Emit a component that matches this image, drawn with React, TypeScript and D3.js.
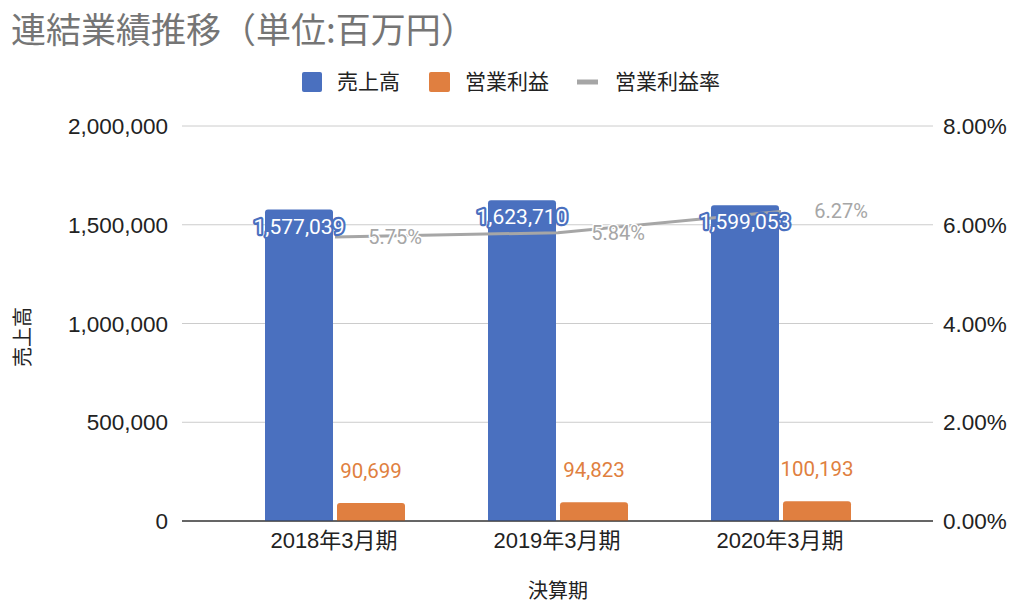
import React from "react";
import * as d3 from "d3";

const categories = ["2018年3月期", "2019年3月期", "2020年3月期"];
const sales = [1577039, 1623710, 1599053];
const operatingProfit = [90699, 94823, 100193];
const profitRate = [5.75, 5.84, 6.27];
const leftTicks = [0, 500000, 1000000, 1500000, 2000000];
const rightTicks = [0, 2, 4, 6, 8];
const title = "連結業績推移（単位:百万円）";
const legendLabels = ["売上高", "営業利益", "営業利益率"];
const xTitle = "決算期";
const yTitle = "売上高";

const W = 1024;
const H = 613;
const AXIS_FONT = "'Liberation Sans', Arial, 'Noto Sans CJK JP', sans-serif";
const LABEL_FONT = "Roboto, 'Noto Sans CJK JP', sans-serif";
const CJK_FONT = "'Noto Sans CJK JP', sans-serif";
const BLUE = "#4a70bf";
const ORANGE = "#e07f40";
const GRAY = "#a6a6a6";

function topRoundedBar(x: number, y: number, w: number, h: number, r: number) {
  const rr = Math.min(r, h / 2, w / 2);
  const p = d3.path();
  p.moveTo(x, y + h);
  p.lineTo(x, y + rr);
  p.quadraticCurveTo(x, y, x + rr, y);
  p.lineTo(x + w - rr, y);
  p.quadraticCurveTo(x + w, y, x + w, y + rr);
  p.lineTo(x + w, y + h);
  p.closePath();
  return p.toString();
}

export default function App() {
  const plotLeft = 182;
  const plotRight = 933;
  const yTop = 126;
  const yBottom = 521;

  const x = d3.scaleBand<string>().domain(categories).range([223.5, 892.5]).paddingInner(0).paddingOuter(0);
  const yL = d3.scaleLinear().domain([0, 2000000]).range([yBottom, yTop]);
  const yR = d3.scaleLinear().domain([0, 8]).range([yBottom, yTop]);
  const barW = 68;
  const gap = 4;
  const fmt = d3.format(",");

  const cx = (c: string) => (x(c) as number) + x.bandwidth() / 2;
  const blueX = (c: string) => cx(c) - gap / 2 - barW;
  const orangeX = (c: string) => cx(c) + gap / 2;

  const line = d3
    .line<number>()
    .x((_, i) => cx(categories[i]))
    .y((d) => yR(d));

  return (
    <svg width={W} height={H} style={{ position: "absolute", left: 0, top: 0, background: "#fff" }}>
      <rect x={0} y={0} width={W} height={H} fill="#fff" />
      <text x={11} y={43} fontSize={35} fill="#757575" fontFamily={CJK_FONT}>{title}</text>

      {/* legend */}
      <g fontSize={21} fill="#222" fontFamily={CJK_FONT}>
        <rect x={302} y={72} width={20} height={20} rx={2} fill={BLUE} />
        <text x={337} y={89}>{legendLabels[0]}</text>
        <rect x={429} y={72} width={21} height={20} rx={2} fill={ORANGE} />
        <text x={465} y={89}>{legendLabels[1]}</text>
        <line x1={577} x2={598} y1={82} y2={82} stroke={GRAY} strokeWidth={5} />
        <text x={615} y={89}>{legendLabels[2]}</text>
      </g>

      {/* gridlines */}
      {leftTicks.map((t) => (
        <line key={t} x1={plotLeft} x2={plotRight} y1={yL(t)} y2={yL(t)} stroke={t === 0 ? "#333" : "#cccccc"} strokeWidth={1} />
      ))}

      {/* axis labels */}
      <g fontFamily={AXIS_FONT} fontSize={22.5} fill="#222">
        {leftTicks.map((t) => (
          <text key={"l" + t} x={168} y={yL(t) + 8} textAnchor="end">{fmt(t)}</text>
        ))}
        {rightTicks.map((t) => (
          <text key={"r" + t} x={943} y={yR(t) + 8} textAnchor="start">{t.toFixed(2) + "%"}</text>
        ))}
      </g>

      {/* bars */}
      {categories.map((c, i) => (
        <g key={c}>
          <path d={topRoundedBar(blueX(c), yL(sales[i]), barW, yBottom - yL(sales[i]), 3)} fill={BLUE} />
          <path d={topRoundedBar(orangeX(c), yL(operatingProfit[i]), barW, yBottom - yL(operatingProfit[i]), 3)} fill={ORANGE} />
        </g>
      ))}
      <line x1={plotLeft} x2={plotRight} y1={yBottom} y2={yBottom} stroke="#333" strokeWidth={1} />

      {/* line */}
      <path d={line(profitRate) || ""} fill="none" stroke={GRAY} strokeWidth={3} />

      <g fontFamily={LABEL_FONT}>
        {categories.map((c, i) => (
          <text key={"pl" + c} x={cx(c) + 60} y={yR(profitRate[i]) + 7} textAnchor="middle" fontSize={20}
            fill={GRAY} stroke="#fff" strokeWidth={3} paintOrder="stroke" strokeLinejoin="round">
            {profitRate[i].toFixed(2) + "%"}
          </text>
        ))}
        {categories.map((c, i) => (
          <text key={"sl" + c} x={blueX(c) + barW / 2} y={yL(sales[i]) + 24} textAnchor="middle" fontSize={21}
            fill="#fff" stroke={BLUE} strokeWidth={4.5} paintOrder="stroke" strokeLinejoin="round">
            {fmt(sales[i])}
          </text>
        ))}
        {categories.map((c, i) => (
          <text key={"ol" + c} x={orangeX(c) + barW / 2} y={yL(operatingProfit[i]) - 25} textAnchor="middle" fontSize={20.5} fill={ORANGE}>
            {fmt(operatingProfit[i])}
          </text>
        ))}
      </g>

      {/* category labels */}
      <g fontFamily={AXIS_FONT} fontSize={22} fill="#222">
        {categories.map((c) => (
          <text key={"c" + c} x={cx(c) - 1} y={548} textAnchor="middle">{c}</text>
        ))}
      </g>

      {/* axis titles */}
      <text x={558} y={598} textAnchor="middle" fontSize={20} fill="#222" fontFamily={CJK_FONT}>{xTitle}</text>
      <text transform={`translate(30, 337) rotate(-90)`} textAnchor="middle" fontSize={20} fill="#222" fontFamily={CJK_FONT}>{yTitle}</text>
    </svg>
  );
}
